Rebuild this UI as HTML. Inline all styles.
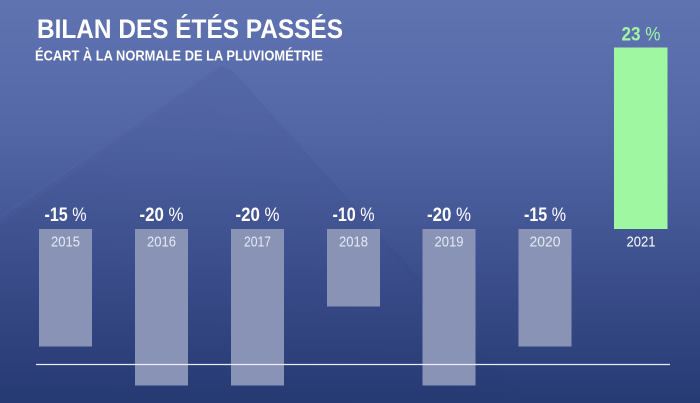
<!DOCTYPE html>
<html><head><meta charset="utf-8"><style>
html,body{margin:0;padding:0;width:700px;height:403px;overflow:hidden;background:#3d5090}
svg{display:block}
</style></head><body>
<svg width="700" height="403" viewBox="0 0 700 403" xmlns="http://www.w3.org/2000/svg">
<defs>
<linearGradient id="bg" x1="0" y1="0" x2="0" y2="1">
<stop offset="0" stop-color="#6073b1"/>
<stop offset="0.3" stop-color="#5467a7"/>
<stop offset="0.6" stop-color="#415492"/>
<stop offset="1" stop-color="#263a74"/>
</linearGradient>
<linearGradient id="roof" x1="0" y1="0" x2="1" y2="1">
<stop offset="0" stop-color="#1a2560" stop-opacity="0.09"/>
<stop offset="1" stop-color="#1a2560" stop-opacity="0.03"/>
</linearGradient>
</defs>
<rect width="700" height="403" fill="url(#bg)"/>
<polygon points="220,66 -10,226 -10,403 530,403 424,290" fill="url(#roof)"/>
<polygon points="220,66 232,70 430,290 424,290" fill="#1c2862" fill-opacity="0.07"/>
<polygon points="220,66 -10,222 -10,232 214,74" fill="#8090d0" fill-opacity="0.05"/>

<!-- title -->
<text x="37" y="38" font-family="Liberation Sans, sans-serif" font-weight="bold" font-size="26.5" fill="#ffffff" textLength="306" lengthAdjust="spacingAndGlyphs">BILAN DES ÉTÉS PASSÉS</text>
<text x="35" y="60.5" font-family="Liberation Sans, sans-serif" font-weight="bold" font-size="14.5" fill="#ffffff" textLength="288" lengthAdjust="spacingAndGlyphs">ÉCART À LA NORMALE DE LA PLUVIOMÉTRIE</text>

<!-- bars -->
<g fill="#8893b6">
<rect x="39" y="229" width="53" height="117.5"/>
<rect x="135" y="229" width="53" height="156.5"/>
<rect x="231" y="229" width="53" height="156.5"/>
<rect x="327" y="229" width="53" height="77.5"/>
<rect x="422.5" y="229" width="53" height="156.5"/>
<rect x="518.5" y="229" width="53" height="117.5"/>
</g>
<rect x="614" y="47.5" width="53.5" height="181.5" fill="#a0f7a2"/>

<!-- baseline -->
<line x1="36" y1="364.5" x2="670" y2="364.5" stroke="#e8ecf8" stroke-width="1.2"/>

<!-- value labels -->
<g font-family="Liberation Sans, sans-serif" font-size="19.5" fill="#ffffff" text-anchor="middle">
<text x="65.5" y="221" textLength="42" lengthAdjust="spacingAndGlyphs"><tspan font-weight="bold">-15</tspan> %</text>
<text x="161.5" y="221" textLength="44" lengthAdjust="spacingAndGlyphs"><tspan font-weight="bold">-20</tspan> %</text>
<text x="257.5" y="221" textLength="44" lengthAdjust="spacingAndGlyphs"><tspan font-weight="bold">-20</tspan> %</text>
<text x="353.5" y="221" textLength="42" lengthAdjust="spacingAndGlyphs"><tspan font-weight="bold">-10</tspan> %</text>
<text x="449" y="221" textLength="44" lengthAdjust="spacingAndGlyphs"><tspan font-weight="bold">-20</tspan> %</text>
<text x="545" y="221" textLength="42" lengthAdjust="spacingAndGlyphs"><tspan font-weight="bold">-15</tspan> %</text>
<text x="641" y="40.5" fill="#a0f7a2" textLength="39" lengthAdjust="spacingAndGlyphs"><tspan font-weight="bold">23</tspan> %</text>
</g>

<!-- year labels -->
<g font-family="Liberation Sans, sans-serif" font-size="15" fill="#e6e9f2" text-anchor="middle">
<text x="65.5" y="246.5" textLength="29" lengthAdjust="spacingAndGlyphs">2015</text>
<text x="161.5" y="246.5" textLength="29" lengthAdjust="spacingAndGlyphs">2016</text>
<text x="257.5" y="246.5" textLength="27" lengthAdjust="spacingAndGlyphs">2017</text>
<text x="353.5" y="246.5" textLength="29" lengthAdjust="spacingAndGlyphs">2018</text>
<text x="449" y="246.5" textLength="29" lengthAdjust="spacingAndGlyphs">2019</text>
<text x="545" y="246.5" textLength="31" lengthAdjust="spacingAndGlyphs">2020</text>
<text x="641" y="246.5" fill="#ffffff" textLength="29" lengthAdjust="spacingAndGlyphs">2021</text>
</g>
</svg>
</body></html>
